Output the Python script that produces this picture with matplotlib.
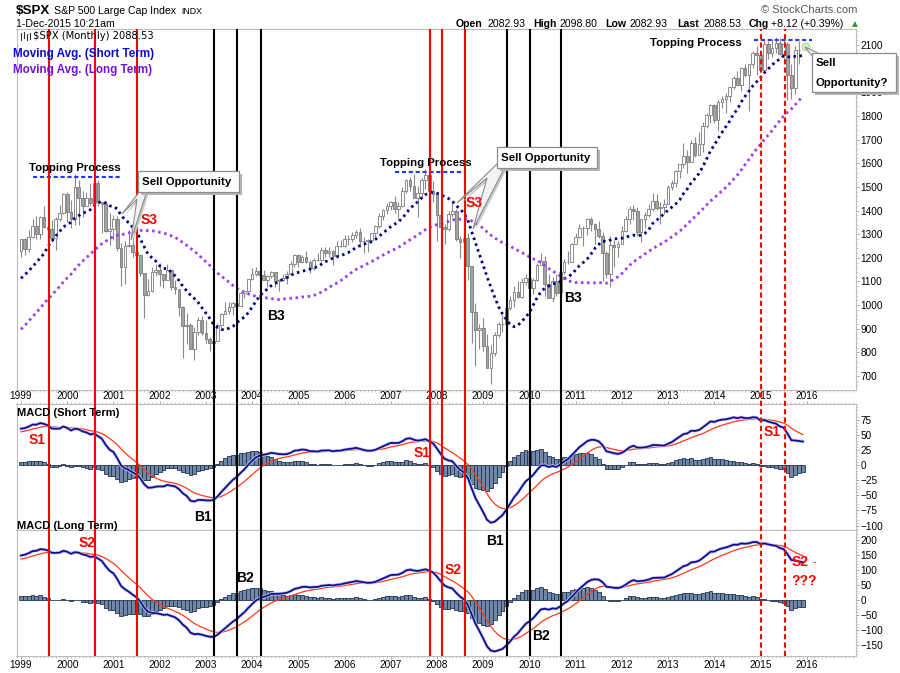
import numpy as np
import pandas as pd
import matplotlib
matplotlib.use('Agg')
import matplotlib.pyplot as plt
from matplotlib.patches import Rectangle, Polygon, Circle
from matplotlib.ticker import MultipleLocator

plt.rcParams['font.family'] = ['Liberation Sans', 'DejaVu Sans']

W, H = 900, 673

# monthly closes Jan 1995 - Dec 1998, only used to warm up the averages / MACD
hist_close = [470, 487, 501, 515, 533, 545, 562, 562, 584, 582, 605, 616,
              636, 640, 646, 654, 669, 671, 640, 652, 687, 705, 757, 741,
              786, 791, 757, 801, 848, 885, 954, 899, 947, 915, 955, 970,
              980, 1049, 1102, 1112, 1091, 1134, 1121, 957, 1017, 1099, 1164, 1229]

# $SPX monthly candles, Jan 1999 - Dec 2015
open_ = [1229, 1280, 1238, 1286, 1335, 1302, 1373, 1329, 1320, 1283, 1363, 1389,
         1469, 1394, 1366, 1499, 1452, 1421, 1455, 1431, 1518, 1437, 1429, 1315,
         1320, 1366, 1240, 1160, 1249, 1256, 1224, 1211, 1134, 1041, 1060, 1139,
         1148, 1130, 1107, 1147, 1077, 1067, 990, 912, 916, 815, 886, 936,
         880, 856, 841, 848, 917, 964, 975, 990, 1008, 996, 1051, 1058,
         1112, 1131, 1145, 1126, 1107, 1121, 1141, 1102, 1104, 1115, 1130, 1174,
         1212, 1181, 1204, 1181, 1157, 1192, 1191, 1234, 1220, 1229, 1207, 1249,
         1248, 1280, 1281, 1295, 1311, 1270, 1270, 1277, 1304, 1336, 1378, 1401,
         1418, 1438, 1407, 1421, 1482, 1531, 1503, 1455, 1474, 1527, 1549, 1481,
         1468, 1379, 1331, 1323, 1386, 1400, 1280, 1267, 1283, 1166, 969, 896,
         903, 826, 735, 798, 873, 919, 919, 987, 1021, 1057, 1036, 1096,
         1115, 1074, 1104, 1169, 1187, 1089, 1031, 1102, 1049, 1141, 1183, 1181,
         1258, 1286, 1327, 1326, 1364, 1345, 1321, 1292, 1219, 1131, 1253, 1247,
         1258, 1312, 1366, 1408, 1398, 1310, 1362, 1379, 1407, 1441, 1412, 1416,
         1426, 1498, 1515, 1569, 1598, 1631, 1606, 1686, 1633, 1682, 1757, 1806,
         1848, 1783, 1859, 1872, 1884, 1924, 1960, 1931, 2003, 1972, 2018, 2068,
         2059, 1995, 2105, 2068, 2086, 2107, 2063, 2104, 1972, 1920, 2079, 2083]
high = [1280, 1282, 1316, 1362, 1376, 1376, 1421, 1353, 1358, 1373, 1422, 1474,
        1478, 1445, 1553, 1528, 1482, 1477, 1517, 1525, 1530, 1437, 1438, 1390,
        1383, 1376, 1264, 1269, 1316, 1287, 1238, 1216, 1134, 1111, 1163, 1173,
        1176, 1131, 1173, 1147, 1107, 1070, 994, 965, 925, 907, 951, 954,
        935, 864, 896, 925, 965, 1015, 1015, 1011, 1040, 1053, 1063, 1112,
        1155, 1159, 1163, 1150, 1128, 1146, 1141, 1109, 1131, 1143, 1188, 1218,
        1217, 1212, 1229, 1192, 1199, 1220, 1245, 1245, 1244, 1233, 1270, 1276,
        1295, 1297, 1310, 1319, 1326, 1286, 1281, 1306, 1340, 1389, 1407, 1431,
        1441, 1462, 1438, 1498, 1535, 1541, 1556, 1504, 1539, 1576, 1552, 1524,
        1472, 1396, 1343, 1397, 1441, 1405, 1293, 1314, 1303, 1167, 1007, 918,
        944, 877, 833, 888, 930, 956, 997, 1040, 1081, 1102, 1113, 1130,
        1151, 1113, 1180, 1220, 1206, 1132, 1120, 1130, 1150, 1196, 1227, 1262,
        1303, 1344, 1333, 1370, 1371, 1346, 1357, 1307, 1230, 1293, 1277, 1269,
        1333, 1378, 1420, 1422, 1415, 1364, 1392, 1427, 1475, 1470, 1434, 1448,
        1509, 1530, 1570, 1598, 1687, 1654, 1698, 1710, 1730, 1776, 1814, 1849,
        1851, 1867, 1884, 1897, 1924, 1968, 1992, 2005, 2019, 2019, 2076, 2094,
        2072, 2120, 2117, 2126, 2135, 2129, 2133, 2113, 2021, 2094, 2117, 2099]
low = [1205, 1212, 1226, 1282, 1281, 1279, 1325, 1268, 1268, 1233, 1354, 1387,
       1350, 1325, 1339, 1339, 1373, 1419, 1417, 1431, 1420, 1305, 1307, 1255,
       1275, 1228, 1081, 1091, 1244, 1203, 1165, 1124, 945, 1037, 1055, 1124,
       1081, 1074, 1107, 1064, 1048, 953, 776, 834, 815, 768, 873, 872,
       840, 807, 789, 847, 902, 963, 962, 960, 990, 996, 1031, 1054,
       1105, 1124, 1087, 1107, 1076, 1113, 1078, 1060, 1102, 1090, 1128, 1162,
       1163, 1180, 1176, 1137, 1147, 1188, 1183, 1202, 1205, 1169, 1201, 1246,
       1245, 1253, 1268, 1282, 1245, 1219, 1225, 1264, 1290, 1327, 1360, 1385,
       1403, 1389, 1364, 1416, 1476, 1484, 1452, 1371, 1452, 1489, 1407, 1435,
       1271, 1317, 1257, 1315, 1373, 1273, 1200, 1248, 1107, 840, 741, 815,
       805, 735, 667, 783, 867, 888, 869, 979, 991, 1030, 1029, 1086,
       1071, 1045, 1101, 1171, 1040, 1029, 1011, 1040, 1048, 1131, 1174, 1181,
       1257, 1285, 1249, 1295, 1312, 1258, 1282, 1101, 1114, 1075, 1159, 1203,
       1258, 1311, 1341, 1358, 1292, 1267, 1326, 1374, 1397, 1403, 1343, 1385,
       1426, 1485, 1501, 1536, 1581, 1560, 1605, 1628, 1633, 1646, 1747, 1768,
       1770, 1738, 1834, 1814, 1860, 1915, 1931, 1905, 1965, 1821, 2001, 1973,
       1988, 1981, 2039, 2049, 2068, 2056, 2045, 1867, 1872, 1893, 2019, 2083]
close = [1280, 1238, 1286, 1335, 1302, 1373, 1329, 1320, 1283, 1363, 1389, 1469,
         1394, 1366, 1499, 1452, 1421, 1455, 1431, 1518, 1437, 1429, 1315, 1320,
         1366, 1240, 1160, 1249, 1256, 1224, 1211, 1134, 1041, 1060, 1139, 1148,
         1130, 1107, 1147, 1077, 1067, 990, 912, 916, 815, 886, 936, 880,
         856, 841, 848, 917, 964, 975, 990, 1008, 996, 1051, 1058, 1112,
         1131, 1145, 1126, 1107, 1121, 1141, 1102, 1104, 1115, 1130, 1174, 1212,
         1181, 1204, 1181, 1157, 1192, 1191, 1234, 1220, 1229, 1207, 1249, 1248,
         1280, 1281, 1295, 1311, 1270, 1270, 1277, 1304, 1336, 1378, 1401, 1418,
         1438, 1407, 1421, 1482, 1531, 1503, 1455, 1474, 1527, 1549, 1481, 1468,
         1379, 1331, 1323, 1386, 1400, 1280, 1267, 1283, 1166, 969, 896, 903,
         826, 735, 798, 873, 919, 919, 987, 1021, 1057, 1036, 1096, 1115,
         1074, 1104, 1169, 1187, 1089, 1031, 1102, 1049, 1141, 1183, 1181, 1258,
         1286, 1327, 1326, 1364, 1345, 1321, 1292, 1219, 1131, 1253, 1247, 1258,
         1312, 1366, 1408, 1398, 1310, 1362, 1379, 1407, 1441, 1412, 1416, 1426,
         1498, 1515, 1569, 1598, 1631, 1606, 1686, 1633, 1682, 1757, 1806, 1848,
         1783, 1859, 1872, 1884, 1924, 1960, 1931, 2003, 1972, 2018, 2068, 2059,
         1995, 2105, 2068, 2086, 2107, 2063, 2104, 1972, 1920, 2079, 2080, 2089]

years = list(range(1999, 2017))

# signal dates (decimal years) marked by vertical lines
red_lines = [1999.606, 2000.601, 2001.503, 2007.849, 2008.109, 2008.600]
black_lines = [2003.169, 2003.673, 2004.192, 2009.521, 2010.012, 2010.683]
dashed_lines = [2015.010, 2015.530]

# "Topping Process" levels: (start, end, price)
topping = [(1999.26, 2001.19, 1542), (2007.09, 2008.61, 1563), (2014.86, 2016.11, 2121)]

# ---- indicators -------------------------------------------------------
full = pd.Series(hist_close + close, dtype=float)
n0 = len(hist_close)
ma_short = full.rolling(12).mean().iloc[n0:].values
ma_long = full.rolling(36).mean().iloc[n0:].values


def macd(fast, slow, signal):
    m = full.ewm(span=fast, adjust=False).mean() - full.ewm(span=slow, adjust=False).mean()
    s = m.ewm(span=signal, adjust=False).mean()
    return m.iloc[n0:].values, s.iloc[n0:].values


macd_s, sig_s = macd(12, 19, 9)
macd_l, sig_l = macd(12, 31, 9)

t = 1999 + np.arange(len(close)) / 12
o, c = np.array(open_, float), np.array(close, float)

# ---- layout (pixel based) ---------------------------------------------
fig = plt.figure(figsize=(W / 100, H / 100), dpi=100)
fig.patch.set_facecolor('white')
L, R = 16.5, 856
XLIM = (1998.903, 2017.066)


def rect(top, bottom):
    return [L / W, 1 - bottom / H, (R - L) / W, (bottom - top) / H]


ax = fig.add_axes(rect(29, 390))
ax1 = fig.add_axes(rect(404, 530))
ax2 = fig.add_axes(rect(530, 655.5))


def style(a, ylim, yticks, minor):
    a.set_xlim(*XLIM)
    a.set_ylim(*ylim)
    for s in a.spines.values():
        s.set_color('#bdbdbd')
        s.set_linewidth(0.8)
    a.yaxis.tick_right()
    a.set_yticks(yticks)
    a.yaxis.set_minor_locator(MultipleLocator(minor))
    a.set_xticks(years)
    a.set_xticklabels([str(y) for y in years])
    a.xaxis.set_minor_locator(MultipleLocator(1 / 12))
    a.tick_params(axis='both', which='major', colors='#9a9a9a', labelcolor='black',
                  labelsize=7.2, length=2.2, width=0.6, pad=1.2)
    a.tick_params(axis='both', which='minor', colors='#b5b5b5', length=1.4, width=0.5)


# ---- price panel ------------------------------------------------------
style(ax, (640.8, 2167.7), range(700, 2101, 100), 20)
ax.tick_params(axis='x', labelbottom=False)
ax.vlines(t, low, high, color='#8a8a8a', lw=0.8, zorder=2)
up = c >= o
ax.bar(t, np.maximum(np.abs(c - o), 1), bottom=np.minimum(o, c), width=0.058,
       color=np.where(up, 'white', '#a3a3a3'), edgecolor='#7b7b7b', lw=0.6, zorder=3)
ax.plot(t, ma_short, color='#000080', lw=2, ls=(0, (0.9, 1.3)), zorder=4)
ax.plot(t, ma_long, color='#9b3cf0', lw=2, ls=(0, (0.9, 1.3)), zorder=4)
for x0, x1, y in topping:
    ax.hlines(y, x0, x1, color='#1f3cf0', lw=1.5, ls=(0, (2, 1.3)), zorder=5)

# ---- MACD panels ------------------------------------------------------
for a, m, s, ylim, ticks, mn in [(ax1, macd_s, sig_s, (-107.3, 100.7), range(-100, 76, 25), 5),
                                  (ax2, macd_l, sig_l, (-183.8, 231.8), range(-150, 201, 50), 10)]:
    style(a, ylim, ticks, mn)
    a.bar(t, m - s, width=1 / 12, color='#6f87a9', edgecolor='#23344f', lw=0.6, zorder=1)
    a.plot(t, s, color='#ff3a1a', lw=0.9, zorder=3)
    a.plot(t, m, color='#c9c9f0', lw=2.4, zorder=3)
    a.plot(t, m, color='#10108f', lw=1.3, zorder=4)
ax1.tick_params(axis='x', which='both', top=True, bottom=False, labeltop=True, labelbottom=False)
ax1.tick_params(axis='x', which='major', pad=0.3)

# ---- vertical signal lines across all panels -------------------------
vl = fig.add_axes(rect(29, 656), zorder=10)
vl.set_xlim(*XLIM)
vl.set_ylim(0, 1)
vl.axis('off')
vl.patch.set_alpha(0)
for x in red_lines:
    vl.axvline(x, color='#ff0000', lw=1.5)
for x in black_lines:
    vl.axvline(x, color='black', lw=1.5)
for x in dashed_lines:
    vl.axvline(x, color='#ff0000', lw=1.5, ls=(0, (2.5, 1.5)))

# ---- annotations in pixel coordinates --------------------------------
ov = fig.add_axes([0, 0, 1, 1], zorder=20)
ov.set_xlim(0, W)
ov.set_ylim(H, 0)
ov.axis('off')
ov.patch.set_alpha(0)


def txt(x, y, s, size=7.6, bold=False, color='black', ha='left', **kw):
    ov.text(x, y, s, fontsize=size, fontweight='bold' if bold else 'normal', color=color,
            ha=ha, va='center', parse_math=False, **kw)


txt(16, 11, '$SPX', 9.6, True)
txt(54, 11, 'S&P 500 Large Cap Index')
txt(181, 11.5, 'INDX', 6.3)
txt(16, 24, '1-Dec-2015 10:21am')
txt(857, 10, '\u00a9 StockCharts.com', 8, color='#555555', ha='right')
for x, s, b in [(456, 'Open', True), (488, '2082.93', False), (533, 'High', True),
                (559, '2098.80', False), (605, 'Low', True), (629, '2082.93', False),
                (677, 'Last', True), (704, '2088.53', False), (749, 'Chg', True),
                (771, '+8.12 (+0.39%)', False)]:
    txt(x, 24, s, 7.6, b)
txt(852, 24, '\u25b2', 5.5, color='#2e9e2e', family=['DejaVu Sans'])

# small candle icon + legend
for x, y0, y1 in [(21, 33, 40), (24, 32, 38), (27, 34, 40), (30, 33, 39)]:
    ov.plot([x, x], [y0, y1], color='#333333', lw=0.8)
txt(33, 36, '$SPX (Monthly) 2088.53', 7.2, family=['DejaVu Sans'])
txt(13, 54, 'Moving Avg. (Short Term)', 8.4, True, '#0a0acc')
txt(13, 70, 'Moving Avg. (Long Term)', 8.4, True, '#7312d6')

for x, y in [(29, 168), (380, 163), (650, 43)]:
    txt(x, y, 'Topping Process', 8.2, True)


def callout(bx, by, bw, bh, pointer, lines):
    ov.add_patch(Polygon([(px + 2, py + 2) for px, py in pointer], closed=True,
                         fc='#c8c8c8', ec='none', zorder=1))
    ov.add_patch(Polygon(pointer, closed=True, fc='#f2f2f2', ec='#8c8c8c', lw=0.8, zorder=2))
    ov.add_patch(Rectangle((bx + 3, by + 3), bw, bh, fc='#b5b5b5', ec='none', zorder=3))
    ov.add_patch(Rectangle((bx, by), bw, bh, fc='white', ec='#8c8c8c', lw=0.9, zorder=4))
    for i, s in enumerate(lines):
        ov.text(bx + 4, by + bh / (len(lines) * 2) * (2 * i + 1) + 0.5, s, fontsize=8.2,
                fontweight='bold', va='center', ha='left', zorder=5)


callout(138, 171, 101, 21, [(140, 191), (122, 214), (137, 199), (131, 240), (147, 191)],
        ['Sell Opportunity'])
callout(497, 147, 100, 21, [(499, 162), (457, 203), (487, 178), (473, 229), (505, 167)],
        ['Sell Opportunity'])
ov.add_patch(Circle((806, 47), 4, fc='#d3ecc8', ec='#a8d898', lw=0.6, zorder=1))
callout(812, 53, 84, 39, [(813, 57), (805, 47), (820, 54)], ['Sell', 'Opportunity?'])

for x, y, s, col in [(149, 220, 'S3', 'red'), (474, 203, 'S3', 'red'),
                     (276, 316, 'B3', 'black'), (573, 298, 'B3', 'black'),
                     (37, 440, 'S1', 'red'), (422, 453, 'S1', 'red'), (772, 432, 'S1', 'red'),
                     (203, 517, 'B1', 'black'), (495, 541, 'B1', 'black'),
                     (87, 543, 'S2', 'red'), (453, 570, 'S2', 'red'),
                     (245, 578, 'B2', 'black'), (541, 636, 'B2', 'black'),
                     (800, 562, 'S2', 'red'), (804, 581, '???', 'red')]:
    txt(x, y, s, 10, True, col, ha='center')
txt(813, 562, '-', 7, color='red')

txt(17, 413, 'MACD (Short Term)', 8, True)
txt(17, 526, 'MACD (Long Term)', 8, True)

fig.savefig('out.png', dpi=100, facecolor='white')
